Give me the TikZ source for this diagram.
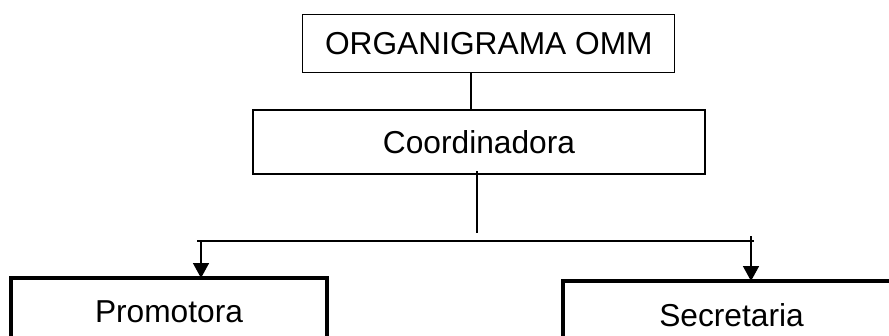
\documentclass[tikz,border=0pt]{standalone}
\usepackage{fontspec}
\setmainfont{Liberation Sans}
\usetikzlibrary{arrows.meta}

\tikzset{
	box/.style={draw, line width=1.3pt, inner sep=0pt, outer sep=0pt, font=\fontsize{31.7}{38}\selectfont},
	boldbox/.style={box, line width=4.5pt},
	wire/.style={line width=1.6pt},
	arrow/.style={wire, -{Triangle[length=15pt, width=16pt]}}
}

\begin{document}
\begin{tikzpicture}[x=1pt, y=-1pt]
	\useasboundingbox (0,0) rectangle (889,335);
	\clip (0,0) rectangle (889,335);
	% Boxes:
	\node[box, minimum width=372pt, minimum height=58pt] (org) at (488.8,43.5) {ORGANIGRAMA OMM};
	\node[box, minimum width=452pt, minimum height=64pt] (coord) at (479,142) {Coordinadora};
	\node[boldbox, minimum width=316pt, minimum height=68pt] (prom) at (169,312) {Promotora};
	\node[boldbox, minimum width=337pt, minimum height=68pt] (sec) at (731.5,315) {Secretaria};
	% Wires:
	\coordinate (split) at (477,233);
	\coordinate (busL) at (197,241);
	\coordinate (busR) at (754,241);
	\coordinate (dropL) at (201,241);
	\coordinate (dropR) at (751,236);
	\draw[wire] ([xshift=-17.8]org.south) -- ([xshift=-8]coord.north);
	\draw[wire] ([xshift=-2, yshift=3]coord.south) -- (split);
	\draw[line width=1.3pt] (busL) -- (busR);
	\draw[arrow] (dropL) -- (dropL |- prom.north);
	\draw[arrow] (dropR) -- (dropR |- sec.north);
\end{tikzpicture}
\end{document}
